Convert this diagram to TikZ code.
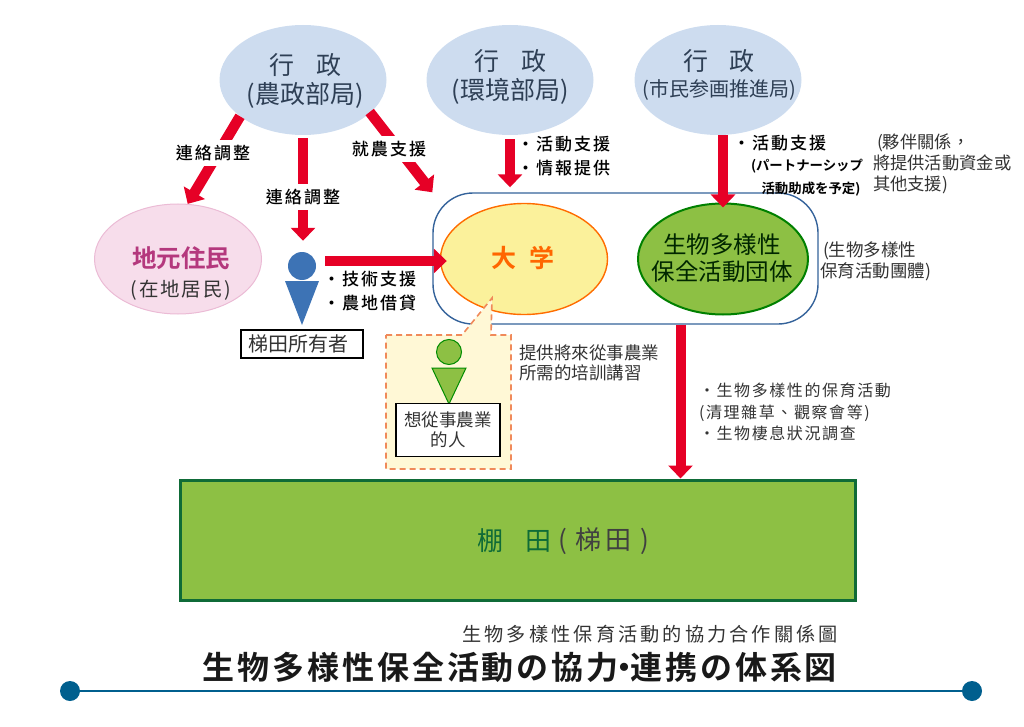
\documentclass[tikz,border=0pt]{standalone}
\usepackage{fontspec}
\usetikzlibrary{arrows.meta,shapes.geometric,calc}
\setmainfont{Noto Sans CJK TC}
\newfontfamily\tc{Noto Sans CJK TC}
\newfontfamily\tcs{Noto Sans CJK TC}[LetterSpace=10]
\newfontfamily\tcw{Noto Sans CJK TC}[LetterSpace=16]
\newfontfamily\tcb{Noto Sans CJK TC Medium}[LetterSpace=12]
\newfontfamily\jp{Noto Sans CJK JP}
\newfontfamily\jpb{Noto Sans CJK JP Bold}
\newfontfamily\jpbs{Noto Sans CJK JP Bold}[LetterSpace=9]
\newcommand{\fs}[2]{\fontsize{#1pt}{#2pt}\selectfont}
\definecolor{redarr}{HTML}{E60026}
\definecolor{adm}{HTML}{CDDCEF}
\definecolor{admtext}{HTML}{2E3F55}
\definecolor{greyt}{HTML}{333333}
\definecolor{fieldg}{HTML}{8DC044}
\definecolor{fieldd}{HTML}{0F6B37}
\definecolor{persb}{HTML}{3D73B5}
\definecolor{pale}{HTML}{FFF8D6}
\definecolor{dashc}{HTML}{F08A5A}
\definecolor{navy}{HTML}{005F8E}
\definecolor{univy}{HTML}{FBF19B}
\definecolor{localp}{HTML}{F7DDEB}
\definecolor{localb}{HTML}{EBBBD5}
\tikzset{
  admin/.style={ellipse,fill=adm,minimum width=167pt,minimum height=110pt,inner sep=0pt},
  redarrow/.style={draw=redarr,line width=10.5pt,-{Triangle[length=13pt,width=24pt]}},
  txt/.style={inner sep=0pt,outer sep=0pt,text=greyt,align=left,anchor=west},
  ctxt/.style={inner sep=0pt,outer sep=0pt,text=greyt,align=center},
  lab/.style={ctxt,text=black,fill=white,font=\tcb\fs{17}{20},inner xsep=1pt,inner ysep=5pt},
  blab/.style={txt,text=black,font=\tcb\fs{17}{24}},
  namebox/.style={draw=black,line width=1.5pt,fill=white,inner sep=0pt,align=center,text=greyt},
}
\begin{document}
\begin{tikzpicture}[x=1pt,y=-1pt]
\useasboundingbox (0,0) rectangle (1024,727);
% ---- containers and ellipses
\node[admin] (a1) at (303,80) {};
\node[admin] (a2) at (510,80) {};
\node[admin] (a3) at (718,80) {};
\node[ellipse,fill=localp,draw=localb,line width=1pt,minimum width=167pt,minimum height=110pt,inner sep=0pt] (local) at (178,259) {};
\node[draw=persb!85!black,line width=1.4pt,rounded corners=40pt,minimum width=385pt,minimum height=131pt,inner sep=0pt] (group) at (625.5,258.5) {};
\node[ellipse,fill=univy,draw=orange!85!red,line width=1.4pt,minimum width=167pt,minimum height=111pt,inner sep=0pt] (univ) at (524,259) {};
\node[ellipse,fill=fieldg,draw=green!50!black,line width=2pt,minimum width=170pt,minimum height=111pt,inner sep=0pt] (bio) at (723,259) {};
\node[fill=fieldg,draw=fieldd,line width=3pt,minimum width=675pt,minimum height=120pt,inner sep=0pt] (field) at (517.5,540) {};
% ---- person: owner
\node[circle,fill=persb,minimum size=28pt,inner sep=0pt] (head) at (302,266) {};
\fill[persb] (285,281) -- (319,281) -- (302,325) -- cycle;
\node[namebox,minimum width=122pt,minimum height=28pt,font=\tc\fs{20}{24}] (owner) at (302,344) {梯田所有者\kern 7pt};
% ---- callout: prospective farmers
\draw[dashc,line width=1.6pt,dash pattern=on 6pt off 4pt,fill=pale]
  (386,335) -- (462,335) -- (492,298) -- (491,335) -- (511,335) -- (511,469) -- (386,469) -- cycle;
\node[circle,fill=fieldg,draw=green!55!black,line width=1pt,minimum size=25pt,inner sep=0pt] (head2) at (449,352) {};
\draw[fill=fieldg,draw=green!55!black,line width=1pt] (432,368) -- (466,368) -- (449,404) -- cycle;
\node[namebox,minimum width=104pt,minimum height=53pt,font=\tc\fs{17.5}{20.5}] (want) at (448,430) {想從事農業\\的人};
% ---- arrows
\draw[redarrow] (a1.210) -- (local.80);
\draw[redarrow,shorten <=3pt,shorten >=11pt] (a1.south) -- (a1.south |- head.north);
\draw[redarrow,shorten <=-1pt] (a1.-26) -- (group.north west);
\draw[redarrow,shorten <=4pt,shorten >=5pt] (a2.south) -- (a2.south |- group.north);
\draw[redarrow,line width=10pt] (bio.north |- a3.south) -- ([yshift=-5pt]bio.north);
\draw[redarrow,shorten <=9pt,shorten >=-7pt] ([yshift=-2pt]univ.west -| head.east) -- ([yshift=-2pt]univ.west);
\draw[redarrow,line width=10pt] ([xshift=55pt]group.south) -- ([xshift=55pt]group.south |- field.north);
% ---- connector labels
\node[lab] (l1) at (213,153) {連絡調整};
\node[lab] (l2) at (303,197) {連絡調整};
\node[lab] (l3) at (389,149) {就農支援};
% ---- ellipse text
\node[ctxt,text=admtext,font=\tc\fs{25}{29}] (t1) at (305,81) {行\kern 22pt 政\\\fs{25}{29}(農政部局)};
\node[ctxt,text=admtext,font=\tc\fs{25}{29}] (t2) at (510,77) {行\kern 22pt 政\\\fs{25}{29}(環境部局)};
\node[ctxt,text=admtext,font=\tc\fs{25}{26}] (t3) at (719,75) {行\kern 22pt 政\\\jp\fs{20}{26}(市民参画推進局)};
\node[ctxt,text=magenta!70!black,font=\tc\fs{24.5}{29}] (t4) at (181,273) {\jpb 地元住民\\\tcs\textcolor{greyt}{\fs{19.5}{29}(在地居民)}};
\node[ctxt,text=orange!80!red,font=\jpb\fs{25}{28}] (t5) at (522.5,258) {大\kern 13pt 学};
\node[ctxt,text=black!85!green,font=\jp\fs{23.5}{26.5}] (t6) at (722,258) {生物多様性\\保全活動団体};
% ---- side labels
\node[blab] (s1) at (326,291) {\kern-3pt ・技術支援\\\kern-3pt ・農地借貸};
\node[blab] (s2) at (517,156) {・活動支援\\・情報提供};
\node[blab] (s3) at (733,143) {・活動支援};
\node[ctxt,text=black,font=\jpb\fs{13.4}{23},anchor=west] (s4) at (751,178) {(パートナーシップ\\\kern 8pt 活動助成を予定)};
\node[txt,font=\tc\fs{17.3}{21}] (s5) at (873,164) {\kern 4pt(夥伴關係，\\將提供活動資金或\\其他支援)};
\node[txt,font=\tc\fs{17.5}{21}] (s6) at (820,261) {\kern 3pt(生物多樣性\\保育活動團體)};
\node[txt,font=\tc\fs{17.5}{19.5}] (s7) at (519,363) {提供將來從事農業\\所需的培訓講習};
\node[txt,font=\tcs\fs{16}{21.5}] (s8) at (699,412) {・生物多樣性的保育活動\\(清理雜草、觀察會等)\\・生物棲息狀況調查};
% ---- field text
\node[ctxt,text=fieldd,font=\tc\fs{26}{30},anchor=west] (f1) at (477,541) {棚\kern 23pt 田};
\node[ctxt,text=black!75!white,font=\tcw\fs{26}{30},anchor=west] (f2) at (558,541) {(\kern 9pt 梯田\kern 9pt)};
% ---- title
\node[ctxt,font=\tcw\fs{19.2}{22},anchor=east] (sub) at (838,634) {生物多樣性保育活動的協力合作關係圖};
\node[ctxt,text=black!90!white,font=\jpbs\fs{32}{34},anchor=east] (title) at (837,667) {生物多様性保全活動の協力\kern-10pt・\kern-10pt 連携の体系図};
% ---- rule
\node[circle,fill=navy,minimum size=20pt,inner sep=0pt] (dl) at (70,691) {};
\node[circle,fill=navy,minimum size=20pt,inner sep=0pt] (dr) at (972,691) {};
\draw[navy,line width=2.6pt] (dl) -- (dr);
\end{tikzpicture}
\end{document}
